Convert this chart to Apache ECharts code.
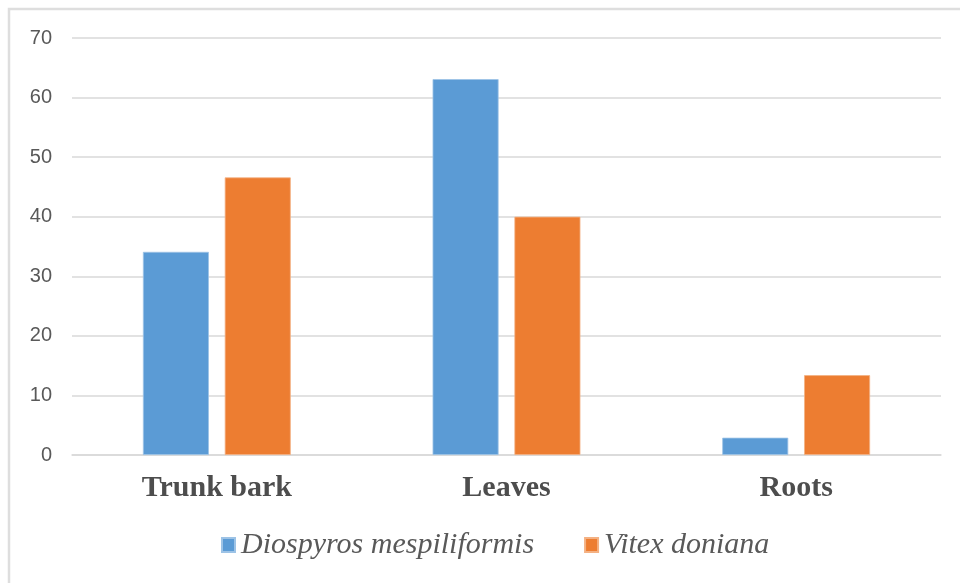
<!DOCTYPE html>
<html>
<head>
<meta charset="utf-8">
<style>
  html, body { margin: 0; padding: 0; background: #ffffff; }
  #chart { width: 960px; height: 583px; }
</style>
<script src="https://cdn.jsdelivr.net/npm/echarts@6/dist/echarts.min.js"></script>
</head>
<body>
<div id="chart"></div>
<script>
// Plant parts on the category axis
const categories = ['Trunk bark', 'Leaves', 'Roots'];
// Values per species
const diospyrosValues = [34.1, 63.1, 2.9];
const vitexValues = [46.6, 40.0, 13.4];
// Value axis ticks
const yTicks = [0, 10, 20, 30, 40, 50, 60, 70];

const seriesNames = ['Diospyros mespiliformis', 'Vitex doniana'];
const colors = ['#5b9bd5', '#ed7d31'];

const chart = echarts.init(document.getElementById('chart'));

chart.setOption({
  animation: false,
  backgroundColor: '#ffffff',
  grid: { left: 72, right: 19, top: 38, bottom: 128, containLabel: false },
  graphic: [
    {
      type: 'polyline',
      shape: { points: [[9, 583], [9, 9], [960, 9]] },
      style: { stroke: '#dedede', lineWidth: 2.5, fill: null }
    }
  ],
  legend: {
    data: seriesNames,
    top: 525,
    left: 216,
    itemWidth: 13,
    itemHeight: 14,
    itemGap: 50,
    icon: 'rect',
    textStyle: {
      fontFamily: 'Liberation Serif',
      fontStyle: 'italic',
      fontSize: 30,
      color: '#595959',
      padding: [0, 0, 0, 1]
    }
  },
  xAxis: {
    type: 'category',
    data: categories,
    axisLine: { show: true, lineStyle: { color: '#d9d9d9', width: 1.5 } },
    axisTick: { show: false },
    axisLabel: {
      margin: 18,
      fontFamily: 'Liberation Serif',
      fontWeight: 'bold',
      fontSize: 30,
      color: '#4d4d4d'
    }
  },
  yAxis: {
    type: 'value',
    min: yTicks[0],
    max: yTicks[yTicks.length - 1],
    interval: yTicks[1] - yTicks[0],
    axisLine: { show: false },
    axisTick: { show: false },
    splitLine: { lineStyle: { color: '#d9d9d9', width: 1.5 } },
    axisLabel: {
      margin: 20,
      fontFamily: 'Liberation Sans',
      fontSize: 20,
      color: '#595959'
    }
  },
  series: [
    {
      name: seriesNames[0],
      type: 'bar',
      data: diospyrosValues,
      barWidth: 66,
      barGap: '24%',
      itemStyle: { color: colors[0], borderColor: '#9dc3e6', borderWidth: 0.8 }
    },
    {
      name: seriesNames[1],
      type: 'bar',
      data: vitexValues,
      barWidth: 66,
      barGap: '24%',
      itemStyle: { color: colors[1], borderColor: '#f4b183', borderWidth: 0.8 }
    }
  ]
});
</script>
</body>
</html>
